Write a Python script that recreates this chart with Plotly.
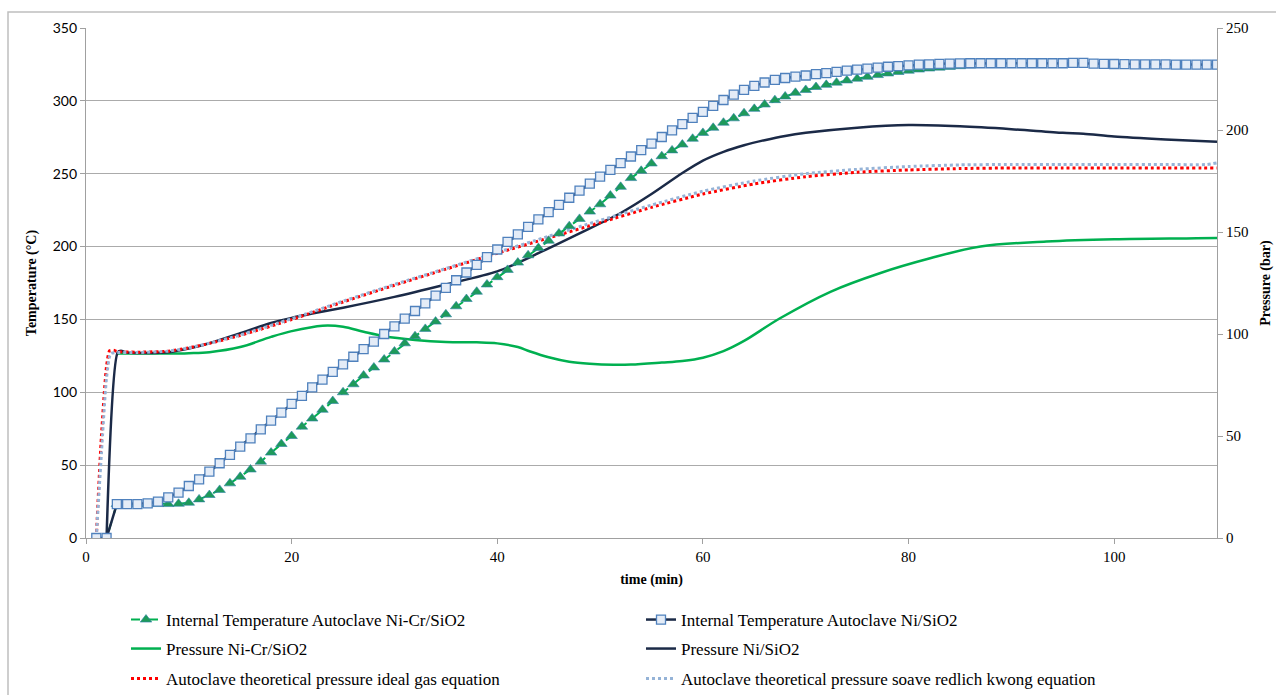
import plotly.graph_objects as go

# ---------------- data ----------------
time_temp = [1, 2, 3, 4, 5, 6, 7, 8, 9, 10, 11, 12, 13, 14, 15, 16, 17, 18, 19, 20,
             21, 22, 23, 24, 25, 26, 27, 28, 29, 30, 31, 32, 33, 34, 35, 36, 37, 38, 39, 40,
             41, 42, 43, 44, 45, 46, 47, 48, 49, 50, 51, 52, 53, 54, 55, 56, 57, 58, 59, 60,
             61, 62, 63, 64, 65, 66, 67, 68, 69, 70, 71, 72, 73, 74, 75, 76, 77, 78, 79, 80,
             81, 82, 83, 84, 85, 86, 87, 88, 89, 90, 91, 92, 93, 94, 95, 96, 97, 98, 99, 100,
             101, 102, 103, 104, 105, 106, 107, 108, 109, 110]

temp_ni = [0, 0, 23.3, 23.3, 23.3, 23.8, 24.9, 27.9, 31.1, 35.7,
           40.3, 45.5, 51.3, 57.0, 62.7, 68.4, 74.6, 80.5, 86.0, 92.0,
           97.5, 103.4, 108.7, 114.0, 119.2, 124.4, 129.6, 134.8, 140.0, 145.3,
           150.5, 155.8, 161.0, 166.3, 171.6, 176.9, 182.2, 187.5, 192.8, 198.0,
           203.2, 208.4, 213.5, 218.6, 223.6, 228.6, 233.5, 238.4, 243.2, 248.0,
           252.7, 257.3, 261.8, 266.2, 270.6, 275.2, 279.7, 284.0, 288.3, 292.5,
           296.6, 300.6, 304.3, 307.5, 310.3, 312.6, 314.4, 315.7, 316.6, 317.4,
           318.3, 319.1, 319.9, 320.7, 321.4, 322.1, 322.8, 323.4, 323.9, 324.4,
           324.8, 325.1, 325.4, 325.6, 325.7, 325.8, 325.8, 325.8, 325.8, 325.8,
           325.8, 325.8, 325.8, 325.8, 325.8, 326.0, 326.0, 325.6, 325.4, 325.3,
           325.2, 325.1, 325.0, 325.0, 325.0, 324.9, 324.9, 324.8, 324.8, 324.8]

temp_nicr = [0, 0, 23.3, 23.3, 23.3, 23.3, 23.3, 23.3, 23.5, 24.2,
             26.5, 29.5, 33.0, 37.5, 42.0, 47.0, 52.4, 58.6, 64.5, 70.0,
             76.4, 82.0, 88.0, 94.0, 100.0, 105.5, 111.5, 117.0, 122.5, 128.0,
             133.6, 138.5, 143.5, 148.5, 153.5, 159.0, 164.0, 169.0, 174.0, 179.0,
             184.0, 189.0, 194.0, 199.0, 204.0, 209.0, 214.0, 219.0, 224.0, 229.0,
             235.0, 241.0, 247.0, 252.0, 257.0, 262.0, 266.0, 270.0, 274.0, 278.0,
             281.5, 285.0, 288.0, 291.5, 294.5, 297.5, 300.5, 303.0, 305.5, 307.5,
             309.5, 311.0, 312.5, 314.0, 315.2, 316.5, 317.7, 318.8, 319.8, 320.7,
             321.5, 322.2, 322.8, 323.3, 323.8, 324.2]

time_p_ni = [2, 3.1, 3.4, 4, 6, 8, 10, 12, 15, 18, 20, 22, 25, 30, 35, 40, 44, 48, 52, 55,
             58, 60, 62, 64, 66, 68, 70, 75, 80, 85, 90, 95, 97, 100, 105, 110]
pres_ni = [0, 91.2, 91.8, 90.9, 90.7, 91.1, 92.9, 95.5, 100.4, 105.4, 107.9, 110.0, 112.9,
           118.2, 124.3, 130.7, 139.6, 149.3, 159.3, 168.6, 178.9, 185.0, 189.3, 192.5,
           195.0, 197.1, 198.6, 201.1, 202.4, 201.8, 200.4, 198.6, 198.2, 196.8, 195.4, 194.3]

time_p_nicr = [3.1, 5, 8, 10, 12, 15, 18, 20, 23, 25, 27, 29, 32, 35, 38, 40, 42, 43.2,
               45, 47, 49, 51.3, 53, 56, 58, 60, 62, 64, 67.5, 72.4, 77.2, 82.1, 87,
               93.4, 100, 108, 110]
pres_nicr = [90.4, 90.4, 90.4, 90.6, 91.1, 93.6, 98.6, 101.4, 104.1, 103.6, 101.1, 98.9,
             97.1, 96.1, 95.9, 95.4, 93.6, 91.4, 88.6, 86.4, 85.4, 84.9, 85.0, 86.0, 86.8,
             88.4, 91.6, 96.6, 107.7, 120.7, 129.8, 137.1, 142.9, 145.3, 146.4, 146.9, 147.1]

time_theo_ideal = [1, 1.5, 2, 2.3, 2.7, 3, 5, 8, 10, 12, 15, 20, 25, 30, 35, 40, 45, 50, 55,
                   60, 65, 70, 75, 80, 85, 90, 95, 100, 105, 110]
pres_ideal = [0, 50.0, 84.3, 91.8, 92.0, 91.4, 91.1, 91.6, 93.2, 95.4, 99.3, 107.1, 115.7,
              123.9, 131.8, 139.6, 147.1, 154.6, 162.1, 168.6, 173.6, 177.1, 179.3, 180.4,
              181.1, 181.4, 181.4, 181.4, 181.4, 181.4]

time_theo_srk = [1, 1.5, 2, 2.4, 3, 5, 8, 10, 12, 15, 20, 25, 30, 35, 40, 45, 50, 55, 60,
                 65, 70, 75, 80, 85, 90, 95, 100, 105, 109, 110]
pres_srk = [0, 41.4, 78.6, 90.4, 90.9, 90.9, 91.6, 93.2, 95.5, 99.5, 107.5, 116.1, 124.3,
            132.1, 140.0, 147.9, 155.7, 163.2, 170.0, 175.0, 178.6, 180.7, 182.1, 182.9,
            183.1, 183.1, 183.1, 183.1, 183.1, 183.9]

names = ["Internal Temperature Autoclave Ni-Cr/SiO2",
         "Internal Temperature Autoclave Ni/SiO2",
         "Pressure Ni-Cr/SiO2",
         "Pressure Ni/SiO2",
         "Autoclave theoretical pressure ideal gas equation",
         "Autoclave theoretical pressure soave redlich kwong equation"]

x_ticks = [0, 20, 40, 60, 80, 100]
temp_ticks = [0, 50, 100, 150, 200, 250, 300, 350]
pres_ticks = [0, 50, 100, 150, 200, 250]

# ---------------- colours ----------------
NAVY = "#1B2A47"
GREEN = "#00B050"
RED = "#FF0000"
LBLUE = "#95B3D7"
SERIF = "Liberation Serif, Times New Roman, serif"

fig = go.Figure()

# pressures on primary y (right side), drawn underneath
fig.add_trace(go.Scatter(x=time_p_nicr, y=pres_nicr, name=names[2], mode="lines",
                         line=dict(color=GREEN, width=2.5, shape="spline", smoothing=1.0),
                         yaxis="y", legend="legend2"))
fig.add_trace(go.Scatter(x=time_p_ni, y=pres_ni, name=names[3], mode="lines",
                         line=dict(color=NAVY, width=2.5, shape="spline", smoothing=0.8),
                         yaxis="y", legend="legend2"))
fig.add_trace(go.Scatter(x=time_theo_ideal, y=pres_ideal, name=names[4], mode="lines",
                         line=dict(color=RED, width=3, dash="dot", shape="spline", smoothing=0.6),
                         yaxis="y", legend="legend3"))
fig.add_trace(go.Scatter(x=time_theo_srk, y=pres_srk, name=names[5], mode="lines",
                         line=dict(color=LBLUE, width=3, dash="dot", shape="spline", smoothing=0.6),
                         yaxis="y", legend="legend3"))

# temperatures on y2 (left side, overlaying), drawn on top
fig.add_trace(go.Scatter(x=time_temp[:len(temp_nicr)], y=temp_nicr, name=names[0],
                         mode="lines+markers",
                         line=dict(color=GREEN, width=2, dash="dash"),
                         marker=dict(symbol="triangle-up", size=10, color="#1E9A5A",
                                     line=dict(color="#2F7FA8", width=0.6)),
                         yaxis="y2", legend="legend"))
fig.add_trace(go.Scatter(x=time_temp, y=temp_ni, name=names[1], mode="lines+markers",
                         line=dict(color=NAVY, width=2.5),
                         marker=dict(symbol="square", size=9, color="#E4ECF7",
                                     line=dict(color="#4F81BD", width=1.3)),
                         yaxis="y2", legend="legend"))

GRID = "#ABABAB"
AXL = "#A0A0A0"

leg_common = dict(orientation="h", x=126 / 1276, xref="container", yref="container",
                  xanchor="left", yanchor="middle",
                  entrywidth=470, entrywidthmode="pixels",
                  font=dict(family=SERIF, size=17, color="#000"),
                  bgcolor="rgba(0,0,0,0)", traceorder="normal")

fig.update_layout(
    width=1276, height=695,
    margin=dict(l=86, r=59, t=28, b=157),
    paper_bgcolor="white", plot_bgcolor="white",
    showlegend=True,
    xaxis=dict(range=[0, 110], tickvals=x_ticks, showgrid=False, zeroline=False,
               automargin=False,
               showline=True, linecolor=AXL, linewidth=1.2, ticks="outside", ticklen=5,
               tickcolor=AXL, tickfont=dict(family=SERIF, size=15, color="#000"),
               title=dict(text="<b>time (min)</b>", standoff=10,
                          font=dict(family=SERIF, size=14, color="#000"))),
    yaxis=dict(range=[0, 250], tickvals=pres_ticks, side="right", showgrid=False,
               automargin=False,
               zeroline=False, showline=True, linecolor=AXL, linewidth=1.2,
               ticks="outside", ticklen=5, tickcolor=AXL,
               tickfont=dict(family=SERIF, size=15, color="#000"),
               title=dict(text="<b>Pressure (bar)</b>", standoff=12,
                          font=dict(family=SERIF, size=14, color="#000"))),
    yaxis2=dict(range=[0, 350], tickvals=temp_ticks, side="left", overlaying="y",
                automargin=False,
                showgrid=True, gridcolor=GRID, gridwidth=1.2, zeroline=False,
                showline=True, linecolor=AXL, linewidth=1.2, ticks="outside", ticklen=5,
                tickcolor=AXL, tickfont=dict(family="Lato", size=14, color="#000"),
                title=dict(text="<b>Temperature (°C)</b>", standoff=12,
                           font=dict(family=SERIF, size=14, color="#000"))),
    legend=dict(leg_common, y=1 - 620 / 695),
    legend2=dict(leg_common, y=1 - 649 / 695),
    legend3=dict(leg_common, y=1 - 679 / 695),
    shapes=[dict(type="rect", xref="paper", yref="paper",
                 x0=(8 - 86) / 1131, x1=(1290 - 86) / 1131,
                 y0=(538 - 710) / 510, y1=(538 - 12) / 510,
                 line=dict(color="#BFBFBF", width=1.5), fillcolor="rgba(0,0,0,0)",
                 layer="below")],
)

fig.write_html("out.html", config={"displayModeBar": False},
               post_script="document.body.style.margin='0';document.body.style.overflow='hidden';")
